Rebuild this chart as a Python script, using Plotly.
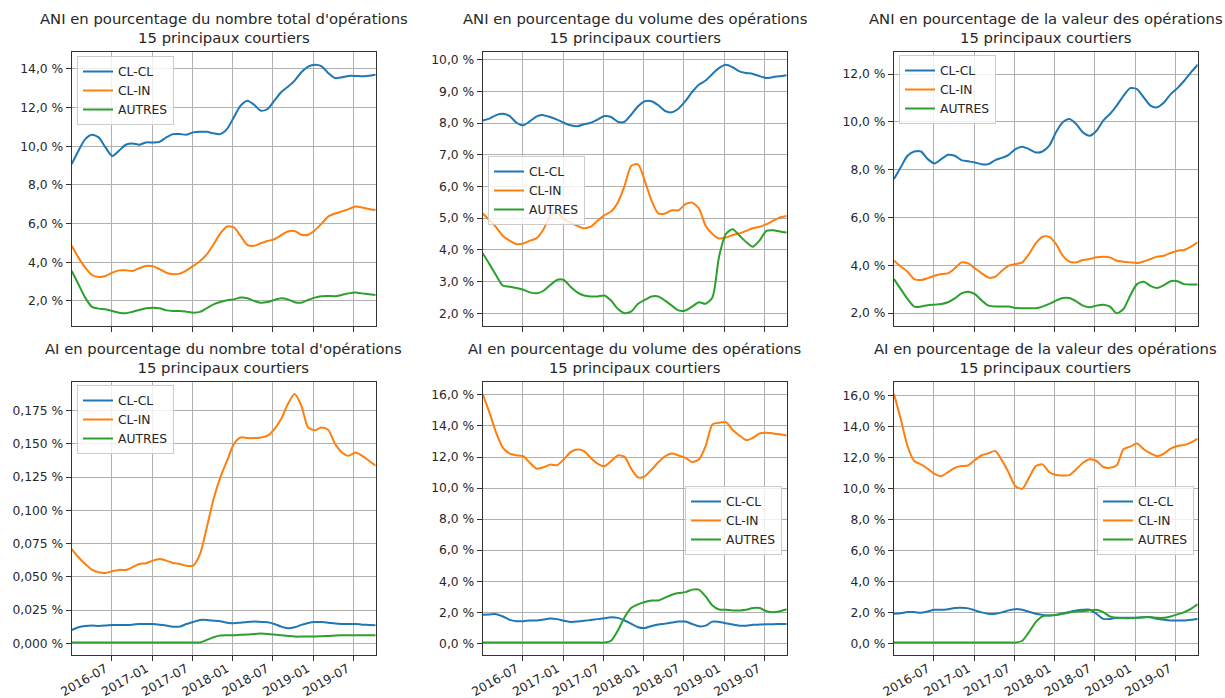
import pandas as pd
import plotly.graph_objects as go

# ---------------- data ----------------
dates = pd.date_range("2016-01-03", "2019-10-10", periods=46)

series_names = ["CL-CL", "CL-IN", "AUTRES"]
colors = ["#1f77b4", "#ff7f0e", "#2ca02c"]

titles = [
    "ANI en pourcentage du nombre total d'opérations<br>15 principaux courtiers",
    "ANI en pourcentage du volume des opérations<br>15 principaux courtiers",
    "ANI en pourcentage de la valeur des opérations<br>15 principaux courtiers",
    "AI en pourcentage du nombre total d'opérations<br>15 principaux courtiers",
    "AI en pourcentage du volume des opérations<br>15 principaux courtiers",
    "AI en pourcentage de la valeur des opérations<br>15 principaux courtiers",
]

ani_nombre_clcl = [9.08, 9.77, 10.37, 10.6, 10.46, 9.94, 9.5, 9.77, 10.08, 10.15, 10.08, 10.2,
                   10.2, 10.23, 10.46, 10.63, 10.63, 10.6, 10.72, 10.75, 10.75, 10.67, 10.63, 10.9,
                   11.5, 12.1, 12.36, 12.15, 11.84, 11.93, 12.36, 12.8, 13.08, 13.4, 13.83, 14.12,
                   14.22, 14.14, 13.78, 13.53, 13.57, 13.64, 13.64, 13.62, 13.65, 13.7]
ani_nombre_clin = [4.85, 4.24, 3.72, 3.34, 3.24, 3.29, 3.46, 3.58, 3.58, 3.55, 3.69, 3.81,
                   3.8, 3.64, 3.46, 3.38, 3.41, 3.58, 3.81, 4.07, 4.41, 4.93, 5.49, 5.85,
                   5.8, 5.36, 4.9, 4.85, 4.98, 5.1, 5.19, 5.4, 5.59, 5.62, 5.42, 5.42,
                   5.66, 6.0, 6.37, 6.52, 6.63, 6.75, 6.88, 6.83, 6.75, 6.7]
ani_nombre_autres = [3.55, 2.86, 2.17, 1.69, 1.6, 1.57, 1.48, 1.39, 1.36, 1.44, 1.53, 1.62,
                     1.65, 1.62, 1.51, 1.48, 1.48, 1.44, 1.39, 1.43, 1.62, 1.82, 1.94, 2.03,
                     2.08, 2.17, 2.14, 2.0, 1.9, 1.94, 2.05, 2.14, 2.08, 1.93, 1.91, 2.05,
                     2.17, 2.24, 2.26, 2.24, 2.31, 2.39, 2.43, 2.39, 2.34, 2.31]

ani_volume_clcl = [8.08, 8.14, 8.25, 8.29, 8.22, 8.01, 7.93, 8.06, 8.21, 8.25, 8.19, 8.11,
                   8.01, 7.93, 7.9, 7.96, 8.01, 8.11, 8.22, 8.19, 8.04, 8.04, 8.27, 8.53,
                   8.69, 8.69, 8.56, 8.38, 8.34, 8.46, 8.69, 8.98, 9.21, 9.34, 9.55, 9.74,
                   9.84, 9.76, 9.63, 9.58, 9.55, 9.48, 9.42, 9.45, 9.48, 9.51]
ani_volume_clin = [5.15, 4.94, 4.71, 4.44, 4.29, 4.18, 4.2, 4.29, 4.37, 4.65, 5.07, 5.18,
                   4.97, 4.86, 4.76, 4.68, 4.73, 4.92, 5.09, 5.21, 5.49, 6.02, 6.65, 6.7,
                   6.17, 5.55, 5.15, 5.15, 5.25, 5.25, 5.44, 5.49, 5.31, 4.76, 4.5, 4.36,
                   4.39, 4.47, 4.52, 4.6, 4.68, 4.73, 4.81, 4.92, 5.02, 5.07]
ani_volume_autres = [3.89, 3.55, 3.19, 2.87, 2.84, 2.8, 2.74, 2.66, 2.63, 2.71, 2.89, 3.05,
                     3.05, 2.84, 2.66, 2.56, 2.53, 2.53, 2.56, 2.4, 2.14, 2.0, 2.06, 2.3,
                     2.42, 2.53, 2.53, 2.4, 2.24, 2.09, 2.09, 2.21, 2.35, 2.3, 2.5, 3.8,
                     4.5, 4.65, 4.45, 4.25, 4.1, 4.3, 4.6, 4.62, 4.58, 4.55]

ani_valeur_clcl = [7.61, 8.1, 8.58, 8.76, 8.76, 8.44, 8.26, 8.44, 8.62, 8.58, 8.4, 8.35,
                   8.3, 8.23, 8.23, 8.4, 8.49, 8.62, 8.86, 8.96, 8.86, 8.72, 8.76, 9.0,
                   9.56, 9.98, 10.12, 9.91, 9.56, 9.42, 9.63, 10.05, 10.33, 10.68, 11.09, 11.41,
                   11.37, 11.02, 10.68, 10.61, 10.81, 11.16, 11.41, 11.72, 12.07, 12.39]
ani_valeur_clin = [4.19, 3.95, 3.73, 3.42, 3.38, 3.46, 3.56, 3.63, 3.66, 3.87, 4.12, 4.08,
                   3.87, 3.66, 3.49, 3.52, 3.77, 3.98, 4.05, 4.12, 4.47, 4.91, 5.19, 5.19,
                   4.89, 4.4, 4.15, 4.12, 4.22, 4.26, 4.33, 4.36, 4.33, 4.19, 4.15, 4.12,
                   4.09, 4.16, 4.26, 4.36, 4.4, 4.51, 4.61, 4.64, 4.78, 4.96]
ani_valeur_autres = [3.42, 3.0, 2.59, 2.27, 2.27, 2.33, 2.35, 2.38, 2.45, 2.61, 2.82, 2.89,
                     2.79, 2.52, 2.31, 2.27, 2.27, 2.27, 2.21, 2.2, 2.2, 2.2, 2.27, 2.38,
                     2.52, 2.63, 2.63, 2.49, 2.31, 2.24, 2.31, 2.35, 2.27, 1.99, 2.17, 2.73,
                     3.21, 3.31, 3.14, 3.05, 3.17, 3.33, 3.33, 3.21, 3.19, 3.19]

ai_nombre_clcl = [0.01, 0.012, 0.013, 0.0133, 0.013, 0.0133, 0.0138, 0.0138, 0.0138, 0.014, 0.0145, 0.0145,
                  0.0145, 0.014, 0.0133, 0.0125, 0.0125, 0.0145, 0.016, 0.0175, 0.0175, 0.017, 0.0165, 0.0155,
                  0.015, 0.0155, 0.016, 0.0163, 0.016, 0.0158, 0.0145, 0.0125, 0.0113, 0.012, 0.0138, 0.0153,
                  0.016, 0.016, 0.0155, 0.0148, 0.0145, 0.0145, 0.0145, 0.014, 0.0138, 0.0135]
ai_nombre_clin = [0.0709, 0.0647, 0.0597, 0.0552, 0.0534, 0.0529, 0.0542, 0.0552, 0.0552, 0.0572, 0.0597, 0.0602,
                  0.0622, 0.0634, 0.0622, 0.0604, 0.0597, 0.0584, 0.0584, 0.0672, 0.0872, 0.1086, 0.1248, 0.1374,
                  0.1499, 0.1549, 0.1544, 0.1544, 0.1549, 0.1562, 0.1612, 0.1687, 0.18, 0.1875, 0.1787, 0.1624,
                  0.1604, 0.1624, 0.1604, 0.1499, 0.1436, 0.1411, 0.1436, 0.1411, 0.1374, 0.1336]
ai_nombre_autres = [0.0005, 0.0005, 0.0005, 0.0005, 0.0005, 0.0005, 0.0005, 0.0005, 0.0005, 0.0005, 0.0005, 0.0005,
                    0.0005, 0.0005, 0.0005, 0.0005, 0.0005, 0.0005, 0.0005, 0.0006, 0.0025, 0.0045, 0.0058, 0.006,
                    0.006, 0.0063, 0.0065, 0.007, 0.0073, 0.007, 0.0065, 0.006, 0.0055, 0.005, 0.005, 0.005,
                    0.005, 0.0053, 0.0055, 0.0058, 0.006, 0.006, 0.006, 0.006, 0.006, 0.006]

ai_volume_clcl = [1.84, 1.86, 1.88, 1.73, 1.51, 1.43, 1.43, 1.47, 1.47, 1.53, 1.6, 1.56,
                  1.45, 1.38, 1.4, 1.45, 1.51, 1.56, 1.62, 1.68, 1.64, 1.47, 1.25, 1.04,
                  0.99, 1.12, 1.21, 1.27, 1.34, 1.4, 1.4, 1.25, 1.1, 1.14, 1.4, 1.38,
                  1.3, 1.21, 1.14, 1.14, 1.19, 1.21, 1.23, 1.23, 1.25, 1.25]
ai_volume_clin = [16.05, 14.86, 13.56, 12.59, 12.22, 12.12, 12.05, 11.62, 11.25, 11.34, 11.51, 11.47,
                  11.84, 12.31, 12.48, 12.38, 11.94, 11.58, 11.4, 11.73, 12.1, 12.01, 11.23, 10.69,
                  10.76, 11.19, 11.66, 12.05, 12.22, 12.1, 11.94, 11.68, 11.84, 12.7, 14.1, 14.21,
                  14.25, 13.74, 13.39, 13.09, 13.24, 13.52, 13.56, 13.52, 13.46, 13.39]
ai_volume_autres = [0.05, 0.05, 0.05, 0.05, 0.05, 0.05, 0.05, 0.05, 0.05, 0.05, 0.05, 0.05,
                    0.05, 0.05, 0.05, 0.05, 0.05, 0.05, 0.05, 0.17, 0.82, 1.68, 2.29, 2.51,
                    2.66, 2.76, 2.76, 2.94, 3.13, 3.24, 3.3, 3.46, 3.46, 3.02, 2.44, 2.18,
                    2.16, 2.12, 2.12, 2.16, 2.27, 2.27, 2.07, 2.01, 2.07, 2.2]

ai_valeur_clcl = [1.91, 1.95, 2.02, 2.02, 1.97, 2.06, 2.17, 2.17, 2.21, 2.28, 2.3, 2.26,
                  2.13, 2.0, 1.91, 1.91, 2.0, 2.13, 2.21, 2.17, 2.04, 1.91, 1.84, 1.8,
                  1.84, 1.95, 2.02, 2.13, 2.17, 2.17, 1.91, 1.58, 1.58, 1.65, 1.65, 1.65,
                  1.65, 1.69, 1.69, 1.58, 1.52, 1.48, 1.48, 1.48, 1.52, 1.58]
ai_valeur_clin = [16.1, 14.49, 12.75, 11.78, 11.56, 11.28, 10.95, 10.8, 11.06, 11.34, 11.45, 11.5,
                  11.84, 12.15, 12.28, 12.43, 11.82, 11.02, 10.15, 9.98, 10.69, 11.45, 11.56, 11.06,
                  10.87, 10.85, 10.87, 11.24, 11.67, 11.89, 11.78, 11.39, 11.34, 11.5, 12.54, 12.71,
                  12.91, 12.54, 12.28, 12.1, 12.26, 12.58, 12.75, 12.82, 12.97, 13.23]
ai_valeur_autres = [0.05, 0.05, 0.05, 0.05, 0.05, 0.05, 0.05, 0.05, 0.05, 0.05, 0.05, 0.05,
                    0.05, 0.05, 0.05, 0.05, 0.05, 0.05, 0.05, 0.17, 0.72, 1.37, 1.74, 1.8,
                    1.84, 1.91, 2.0, 2.06, 2.08, 2.13, 2.17, 2.02, 1.74, 1.65, 1.63, 1.63,
                    1.65, 1.69, 1.69, 1.65, 1.65, 1.74, 1.87, 2.02, 2.23, 2.52]

panels = [
    [ani_nombre_clcl, ani_nombre_clin, ani_nombre_autres],
    [ani_volume_clcl, ani_volume_clin, ani_volume_autres],
    [ani_valeur_clcl, ani_valeur_clin, ani_valeur_autres],
    [ai_nombre_clcl, ai_nombre_clin, ai_nombre_autres],
    [ai_volume_clcl, ai_volume_clin, ai_volume_autres],
    [ai_valeur_clcl, ai_valeur_clin, ai_valeur_autres],
]

ytick_values = [
    [2, 4, 6, 8, 10, 12, 14],
    [2, 3, 4, 5, 6, 7, 8, 9, 10],
    [2, 4, 6, 8, 10, 12],
    [0, 0.025, 0.05, 0.075, 0.1, 0.125, 0.15, 0.175],
    [0, 2, 4, 6, 8, 10, 12, 14, 16],
    [0, 2, 4, 6, 8, 10, 12, 14, 16],
]
ytick_decimals = [1, 1, 1, 3, 1, 1]

xtick_dates = ["2016-07-01", "2017-01-01", "2017-07-01", "2018-01-01",
               "2018-07-01", "2019-01-01", "2019-07-01"]
xtick_labels = ["2016-07", "2017-01", "2017-07", "2018-01", "2018-07", "2019-01", "2019-07"]

# ---------------- layout geometry (pixels) ----------------
W, H = 1225, 698
col_px = [(71.7, 375.7), (482.7, 786.7), (894.0, 1197.7)]
row_px = [(52.3, 325.7), (381.7, 655.0)]
legend_px = [(77, 56), (488, 156), (899, 55), (77, 385), (685, 486), (1097, 486)]

FONT = "DejaVu Sans"
TXT = "#262626"

fig = go.Figure()
layout = dict(
    template="none",
    width=W, height=H, autosize=False,
    margin=dict(l=0, r=0, t=0, b=0, pad=0),
    paper_bgcolor="white", plot_bgcolor="white",
    font=dict(family=FONT, size=12.3, color=TXT),
    annotations=[],
)

for k, series in enumerate(panels):
    r, c = divmod(k, 3)
    sfx = "" if k == 0 else str(k + 1)
    lg = "legend" if k == 0 else f"legend{k + 1}"
    for name, vals, col in zip(series_names, series, colors):
        fig.add_trace(go.Scatter(
            x=dates, y=vals, name=name, mode="lines",
            line=dict(color=col, width=2, shape="spline", smoothing=0.7),
            xaxis="x" + sfx, yaxis="y" + sfx, legend=lg, showlegend=True,
        ))
    allv = [v for s in series for v in s]
    lo, hi = min(allv), max(allv)
    pad = (hi - lo) * 0.05
    x0, x1 = col_px[c]
    y0, y1 = row_px[r]
    dec = ytick_decimals[k]
    ytext = [f"{v:.{dec}f} %".replace(".", ",") for v in ytick_values[k]]
    layout["xaxis" + sfx] = dict(
        domain=[x0 / W, x1 / W], anchor="y" + sfx, automargin=False,
        type="date", range=[dates[0], dates[-1]],
        tickvals=xtick_dates, ticktext=xtick_labels,
        showticklabels=(r == 1), tickangle=-30,
        ticklabelstandoff=-4, ticklabelshift=-6,
        ticks="outside", ticklen=5, tickcolor="#333", tickwidth=1,
        showgrid=True, gridcolor="#b0b0b0", gridwidth=1,
        showline=True, linecolor="#333", linewidth=1, mirror=True,
        zeroline=False, tickfont=dict(size=12.3, family=FONT, color=TXT),
    )
    layout["yaxis" + sfx] = dict(
        domain=[1 - y1 / H, 1 - y0 / H], anchor="x" + sfx, automargin=False,
        range=[lo - pad, hi + pad],
        tickvals=ytick_values[k], ticktext=ytext,
        ticks="outside", ticklen=5, tickcolor="#333", tickwidth=1,
        showgrid=True, gridcolor="#b0b0b0", gridwidth=1,
        showline=True, linecolor="#333", linewidth=1, mirror=True,
        zeroline=False, tickfont=dict(size=12.3, family=FONT, color=TXT),
    )
    lx, ly = legend_px[k]
    layout[lg] = dict(
        x=lx / W, y=1 - ly / H, xanchor="left", yanchor="top",
        xref="paper", yref="paper",
        bgcolor="rgba(255,255,255,0.8)", bordercolor="#cccccc", borderwidth=1,
        font=dict(size=12.3, family=FONT, color=TXT),
        tracegroupgap=0, itemwidth=30,
    )
    layout["annotations"].append(dict(
        text=titles[k], x=(x0 + x1) / 2 / W, y=1 - (y0 - 4) / H,
        xref="paper", yref="paper", xanchor="center", yanchor="bottom",
        showarrow=False, font=dict(size=14.8, family=FONT, color=TXT),
    ))

fig.update_layout(**layout)
fig.write_html(
    "out.html",
    config={"displayModeBar": False},
    post_script="document.body.style.margin='0px';document.body.style.overflow='hidden';",
)
